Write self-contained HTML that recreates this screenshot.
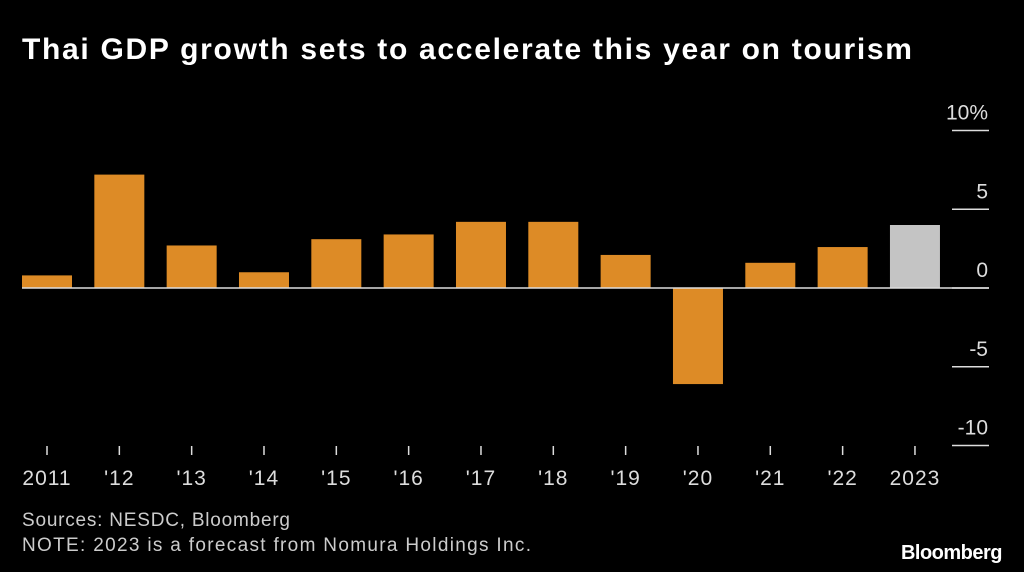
<!DOCTYPE html>
<html><head><meta charset="utf-8"><style>
body{margin:0;background:#000;width:1024px;height:572px;overflow:hidden;font-family:"Liberation Sans",sans-serif}
</style></head><body>
<svg width="1024" height="572" style="position:absolute;left:0;top:0">
<text x="22" y="59" fill="#fff" font-size="30" font-weight="bold" textLength="890" lengthAdjust="spacing">Thai GDP growth sets to accelerate this year on tourism</text>
<g id="grid"></g><g id="bars"></g><g id="xaxis"></g>
<text x="22" y="526" fill="#ccc" font-size="19" textLength="268" lengthAdjust="spacing">Sources: NESDC, Bloomberg</text>
<text x="22" y="551" fill="#ccc" font-size="19" textLength="509" lengthAdjust="spacing">NOTE: 2023 is a forecast from Nomura Holdings Inc.</text>
<text x="1002" y="559" fill="#fff" font-size="20" font-weight="bold" text-anchor="end" letter-spacing="-0.5">Bloomberg</text>
</svg>
<script>
const categories=["2011","'12","'13","'14","'15","'16","'17","'18","'19","'20","'21","'22","2023"];
const values=[0.8,7.2,2.7,1.0,3.1,3.4,4.2,4.2,2.1,-6.1,1.6,2.6,4.0];
const forecast=[false,false,false,false,false,false,false,false,false,false,false,false,true];
const yTicks=[10,5,0,-5,-10];
const yTickLabels=["10%","5","0","-5","-10"];
const NS="http://www.w3.org/2000/svg";
const y=v=>288-v*15.75;
const x=i=>22+i*72.33;
const bw=50;
function mk(tag,attrs,parent){const e=document.createElementNS(NS,tag);for(const k in attrs)e.setAttribute(k,attrs[k]);document.getElementById(parent).appendChild(e);return e;}
yTicks.forEach((t,i)=>{
  const l=mk('line',{x1:952,x2:989,y1:y(t),y2:y(t),stroke:'#ddd','stroke-width':1.5},'grid');
  
  
  const tx=mk('text',{x:988,y:y(t)-11,fill:'#ddd','font-size':21,'text-anchor':'end'},'grid');
  tx.textContent=yTickLabels[i];
  
  
});
values.forEach((v,i)=>{
  const r=mk('rect',{x:x(i),y:Math.min(y(v),y(0)),width:bw,height:Math.abs(y(v)-y(0)),fill:forecast[i]?'#c4c4c4':'#dd8b26'},'bars');
  
  
  const t=mk('line',{x1:x(i)+bw/2,x2:x(i)+bw/2,y1:446,y2:455,stroke:'#ddd','stroke-width':1.5},'xaxis');
  
  
  const lb=mk('text',{x:x(i)+bw/2,y:485,fill:'#ddd','font-size':21,'text-anchor':'middle','letter-spacing':1},'xaxis');
  lb.textContent=categories[i];
  
  
});
const z=mk('line',{x1:22,x2:989,y1:y(0),y2:y(0),stroke:'#ddd','stroke-width':1.5},'bars');


</script>
</body></html>
